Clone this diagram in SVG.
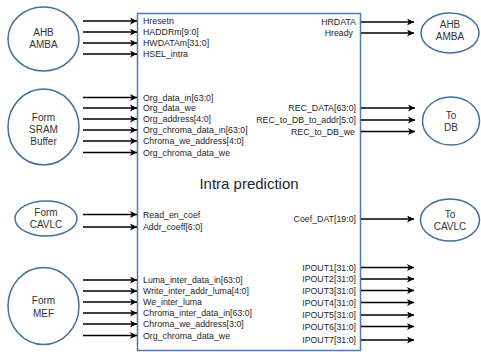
<svg xmlns="http://www.w3.org/2000/svg" width="481" height="352" viewBox="0 0 481 352">
<defs>
<marker id="ah" markerUnits="userSpaceOnUse" markerWidth="8" markerHeight="8" refX="7" refY="3.5" orient="auto">
<path d="M0,0 L7,3.5 L0,7 L1.8,3.5 z" fill="#000"/>
</marker>
</defs>
<style>
.ell{fill:#fff;stroke:#41719C;stroke-width:1.5}
.box{fill:#fff;stroke:#4F7BB0;stroke-width:1.5}
.nt{font-family:"Liberation Sans",Arial,sans-serif;font-size:10px;fill:#333;text-anchor:middle}
.lb{font-family:"Liberation Sans",Arial,sans-serif;font-size:8.8px;fill:#262626}
.rb{font-family:"Liberation Sans",Arial,sans-serif;font-size:8.8px;fill:#262626;text-anchor:end}
.ttl{font-family:"Liberation Sans",Arial,sans-serif;font-size:15px;fill:#262626;text-anchor:middle}
.ar{stroke:#000;stroke-width:1.6;fill:none;marker-end:url(#ah)}
</style>
<rect width="481" height="352" fill="#fff"/>

<g id="intra">
<rect class="box" x="137.5" y="13.5" width="223" height="337"/>
<text class="ttl" x="249" y="189">Intra prediction</text>
<text class="lb" x="143" y="24">Hresetn</text>
<text class="lb" x="143" y="35">HADDRm[9:0]</text>
<text class="lb" x="143" y="46">HWDATAm[31:0]</text>
<text class="lb" x="143" y="57">HSEL_intra</text>
<text class="lb" x="143" y="100.5">Org_data_in[63:0]</text>
<text class="lb" x="143" y="111">Org_data_we</text>
<text class="lb" x="143" y="122">Org_address[4:0]</text>
<text class="lb" x="143" y="133">Org_chroma_data_in[63:0]</text>
<text class="lb" x="143" y="144">Chroma_we_address[4:0]</text>
<text class="lb" x="143" y="155.5">Org_chroma_data_we</text>
<text class="lb" x="143" y="217.5">Read_en_coef</text>
<text class="lb" x="143" y="230">Addr_coeff[6:0]</text>
<text class="lb" x="143" y="283">Luma_inter_data_in[63:0]</text>
<text class="lb" x="143" y="294">Write_inter_addr_luma[4:0]</text>
<text class="lb" x="143" y="305">We_inter_luma</text>
<text class="lb" x="143" y="316">Chroma_inter_data_in[63:0]</text>
<text class="lb" x="143" y="327">Chroma_we_address[3:0]</text>
<text class="lb" x="143" y="338.5">Org_chroma_data_we</text>
<text class="rb" x="356" y="25">HRDATA</text>
<text class="rb" x="353" y="35.5">Hready</text>
<text class="rb" x="356" y="110.5">REC_DATA[63:0]</text>
<text class="rb" x="356" y="122.5">REC_to_DB_to_addr[5:0]</text>
<text class="rb" x="355" y="134.5">REC_to_DB_we</text>
<text class="rb" x="356" y="222">Coef_DAT[19:0]</text>
<text class="rb" x="356" y="270.5">IPOUT1[31:0]</text>
<text class="rb" x="356" y="282">IPOUT2[31:0]</text>
<text class="rb" x="356" y="293.5">IPOUT3[31:0]</text>
<text class="rb" x="356" y="305.5">IPOUT4[31:0]</text>
<text class="rb" x="356" y="318">IPOUT5[31:0]</text>
<text class="rb" x="356" y="329.5">IPOUT6[31:0]</text>
<text class="rb" x="356" y="343">IPOUT7[31:0]</text>
</g>

<g id="ahb-in">
<ellipse class="ell" cx="43.5" cy="39" rx="35.5" ry="32"/>
<text class="nt" x="43.5" y="36">AHB</text>
<text class="nt" x="43.5" y="48">AMBA</text>
</g>
<g id="sram">
<ellipse class="ell" cx="43.5" cy="127" rx="35.5" ry="38"/>
<text class="nt" x="43.5" y="121">Form</text>
<text class="nt" x="43.5" y="133">SRAM</text>
<text class="nt" x="43.5" y="145">Buffer</text>
</g>
<g id="cavlc-in">
<ellipse class="ell" cx="46" cy="218.5" rx="31" ry="17.5"/>
<text class="nt" x="46" y="216">Form</text>
<text class="nt" x="46" y="228">CAVLC</text>
</g>
<g id="mef">
<ellipse class="ell" cx="43.5" cy="306" rx="35.5" ry="38.5"/>
<text class="nt" x="43.5" y="304">Form</text>
<text class="nt" x="43.5" y="316.5">MEF</text>
</g>
<g id="ahb-out">
<ellipse class="ell" cx="450" cy="33" rx="29" ry="20"/>
<text class="nt" x="450" y="27.5">AHB</text>
<text class="nt" x="450" y="39.5">AMBA</text>
</g>
<g id="db">
<ellipse class="ell" cx="451" cy="121" rx="28.5" ry="24"/>
<text class="nt" x="451" y="118.5">To</text>
<text class="nt" x="451" y="130.5">DB</text>
</g>
<g id="cavlc-out">
<ellipse class="ell" cx="450" cy="220" rx="29.5" ry="21"/>
<text class="nt" x="450" y="217.5">To</text>
<text class="nt" x="450" y="229.5">CAVLC</text>
</g>

<g id="connectors">
<line class="ar" x1="83" y1="21" x2="137" y2="21"/>
<line class="ar" x1="83" y1="32" x2="137" y2="32"/>
<line class="ar" x1="83" y1="43" x2="137" y2="43"/>
<line class="ar" x1="83" y1="54" x2="137" y2="54"/>
<line class="ar" x1="83" y1="97.5" x2="137" y2="97.5"/>
<line class="ar" x1="83" y1="108" x2="137" y2="108"/>
<line class="ar" x1="83" y1="119" x2="137" y2="119"/>
<line class="ar" x1="83" y1="130" x2="137" y2="130"/>
<line class="ar" x1="83" y1="141" x2="137" y2="141"/>
<line class="ar" x1="83" y1="152.5" x2="137" y2="152.5"/>
<line class="ar" x1="83" y1="214.5" x2="137" y2="214.5"/>
<line class="ar" x1="83" y1="227" x2="137" y2="227"/>
<line class="ar" x1="83" y1="280" x2="137" y2="280"/>
<line class="ar" x1="83" y1="291" x2="137" y2="291"/>
<line class="ar" x1="83" y1="302" x2="137" y2="302"/>
<line class="ar" x1="83" y1="313" x2="137" y2="313"/>
<line class="ar" x1="83" y1="324" x2="137" y2="324"/>
<line class="ar" x1="83" y1="335.5" x2="137" y2="335.5"/>
<line class="ar" x1="361" y1="22" x2="414" y2="22"/>
<line class="ar" x1="361" y1="33" x2="414" y2="33"/>
<line class="ar" x1="361" y1="108" x2="415" y2="108"/>
<line class="ar" x1="361" y1="120" x2="415" y2="120"/>
<line class="ar" x1="361" y1="131.5" x2="415" y2="131.5"/>
<line class="ar" x1="361" y1="219" x2="414" y2="219"/>
<line class="ar" x1="361" y1="267.5" x2="414" y2="267.5"/>
<line class="ar" x1="361" y1="279" x2="414" y2="279"/>
<line class="ar" x1="361" y1="290.5" x2="414" y2="290.5"/>
<line class="ar" x1="361" y1="302.5" x2="414" y2="302.5"/>
<line class="ar" x1="361" y1="315" x2="414" y2="315"/>
<line class="ar" x1="361" y1="326.5" x2="414" y2="326.5"/>
<line class="ar" x1="361" y1="340" x2="414" y2="340"/>
</g>
</svg>
